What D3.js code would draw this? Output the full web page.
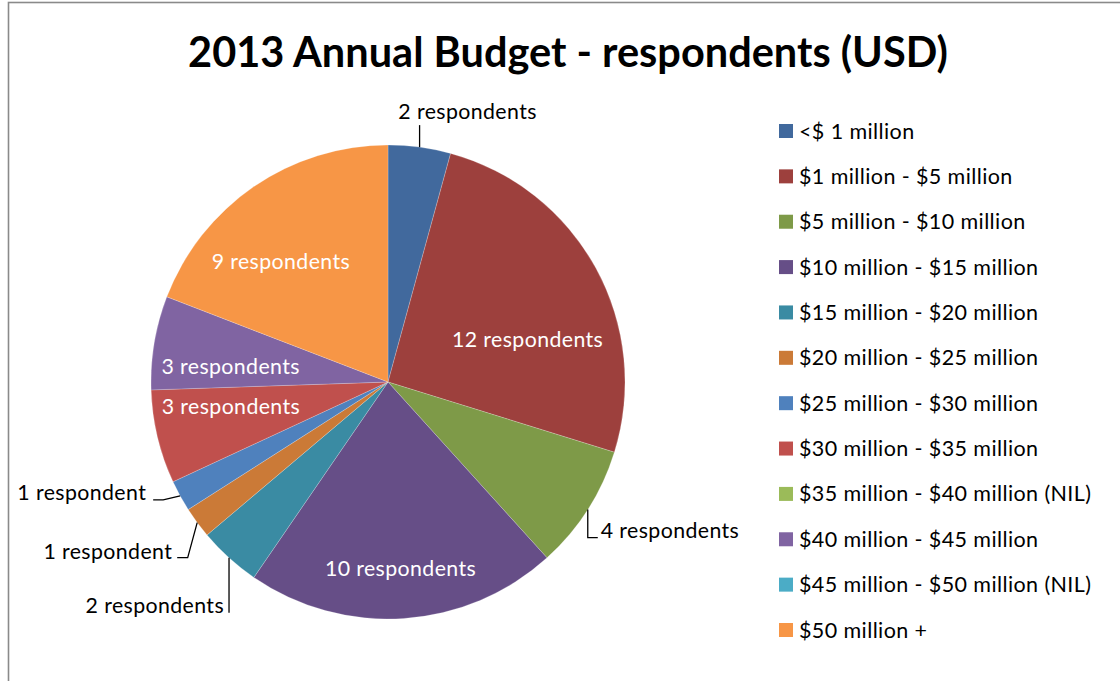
<!DOCTYPE html>
<html>
<head>
<meta charset="utf-8">
<script src="https://cdn.jsdelivr.net/npm/d3@7"></script>
<style>
  html, body { margin: 0; padding: 0; background: #fff; }
  svg { display: block; }
  text { font-family: Lato, "Open Sans", sans-serif; }
</style>
</head>
<body>
<svg id="chart" width="1120" height="681"></svg>
<script>
// Budget bands and respondent counts
const categories = [
  "<$ 1 million",
  "$1 million - $5 million",
  "$5 million - $10 million",
  "$10 million - $15 million",
  "$15 million - $20 million",
  "$20 million - $25 million",
  "$25 million - $30 million",
  "$30 million - $35 million",
  "$35 million - $40 million (NIL)",
  "$40 million - $45 million",
  "$45 million - $50 million (NIL)",
  "$50 million +"
];
const respondents = [2, 12, 4, 10, 2, 1, 1, 3, 0, 3, 0, 9];
const sliceColors = [
  "#41699d", "#9d403d", "#7e9a48", "#664e87", "#3a8ba3", "#cb7a37",
  "#4f81bd", "#c0504d", "#9bbb59", "#8064a2", "#4bacc6", "#f79646"
];
const titleText = "2013 Annual Budget - respondents (USD)";

const labelFor = v => v === 1 ? v + " respondent" : v + " respondents";

// Layout
const W = 1120, H = 681;
const cx = 388, cy = 382, R = 237;
const labelSize = 21.3, legendSize = 21.5, spacing = "0.4px";

// Labels drawn inside their slice: angle shift (deg) from the slice bisector and radius fraction
const insideLabels = {
  1: { shift: 11.7, rf: 0.616 },
  3: { shift: 0, rf: 0.79 },
  7: { shift: 4.4, rf: 0.671 },
  9: { shift: -4.1, rf: 0.667 },
  11: { shift: -7.2, rf: 0.68 }
};
// Labels drawn outside with a leader line: elbow and end offsets from the rim point, text anchor
const calloutLabels = {
  0: { elbow: [0, -22], end: [0, -22], text: [48, -28], anchor: "middle" },
  2: { elbow: [0, 28], end: [10, 28], text: [13, 28], anchor: "start" },
  4: { elbow: [0, 55], end: [0, 55], text: [-5, 55], anchor: "end" },
  5: { elbow: [-9.5, 35], end: [-20, 35], text: [-25, 36], anchor: "end" },
  6: { elbow: [-17, 4], end: [-27, 4], text: [-34, 4], anchor: "end" }
};

const svg = d3.select("#chart");

// Chart frame
svg.append("rect")
  .attr("x", 8.5).attr("y", 2.5)
  .attr("width", W + 40).attr("height", H + 40)
  .attr("fill", "#fff")
  .attr("stroke", "#8a8a8a")
  .attr("stroke-width", 1.6);

// Title
svg.append("text")
  .attr("x", 568).attr("y", 67)
  .attr("text-anchor", "middle")
  .attr("font-weight", "bold")
  .attr("font-size", 41.5)
  .attr("fill", "#000")
  .text(titleText);

// Pie
const data = categories.map((c, i) => ({ name: c, value: respondents[i], color: sliceColors[i], idx: i }));
const pie = d3.pie().value(d => d.value).sort(null);
const arcs = pie(data);
const arc = d3.arc().innerRadius(0).outerRadius(R);

const g = svg.append("g").attr("transform", `translate(${cx},${cy})`);

g.selectAll("path.slice")
  .data(arcs.filter(a => a.data.value > 0))
  .join("path")
  .attr("class", "slice")
  .attr("d", arc)
  .attr("fill", d => d.data.color)
  .attr("stroke", "#ffffff")
  .attr("stroke-opacity", 0.35)
  .attr("stroke-width", 0.6);

const polar = (angle, r) => [r * Math.sin(angle), -r * Math.cos(angle)];

// Inside labels
arcs.forEach(a => {
  const cfg = insideLabels[a.data.idx];
  if (!cfg) return;
  const mid = (a.startAngle + a.endAngle) / 2 + cfg.shift * Math.PI / 180;
  const [x, y] = polar(mid, R * cfg.rf);
  g.append("text")
    .attr("x", x).attr("y", y)
    .attr("dy", "0.35em")
    .attr("text-anchor", "middle")
    .attr("font-size", labelSize)
    .attr("letter-spacing", spacing)
    .attr("fill", "#ffffff")
    .text(labelFor(a.data.value));
});

// Callout labels with leader lines
arcs.forEach(a => {
  const cfg = calloutLabels[a.data.idx];
  if (!cfg) return;
  const mid = (a.startAngle + a.endAngle) / 2;
  const [x0, y0] = polar(mid, R);
  const pts = [[x0, y0], [x0 + cfg.elbow[0], y0 + cfg.elbow[1]], [x0 + cfg.end[0], y0 + cfg.end[1]]];
  g.append("path")
    .attr("d", d3.line()(pts))
    .attr("fill", "none")
    .attr("stroke", "#000")
    .attr("stroke-width", 1.3);
  g.append("text")
    .attr("x", x0 + cfg.text[0]).attr("y", y0 + cfg.text[1])
    .attr("text-anchor", cfg.anchor)
    .attr("font-size", labelSize)
    .attr("letter-spacing", spacing)
    .attr("fill", "#000")
    .text(labelFor(a.data.value));
});

// Legend
const legendY = d3.scalePoint().domain(d3.range(categories.length)).range([131, 630]);
const legend = svg.append("g");
const rows = legend.selectAll("g.row").data(data).join("g")
  .attr("class", "row")
  .attr("transform", d => `translate(779,${legendY(d.idx)})`);
rows.append("rect")
  .attr("x", 0).attr("y", -7)
  .attr("width", 14).attr("height", 14)
  .attr("fill", d => d.color);
rows.append("text")
  .attr("x", 20).attr("y", 0)
  .attr("dy", "0.35em")
  .attr("font-size", legendSize)
  .attr("letter-spacing", spacing)
  .attr("fill", "#000")
  .text(d => d.name);
</script>
</body>
</html>
